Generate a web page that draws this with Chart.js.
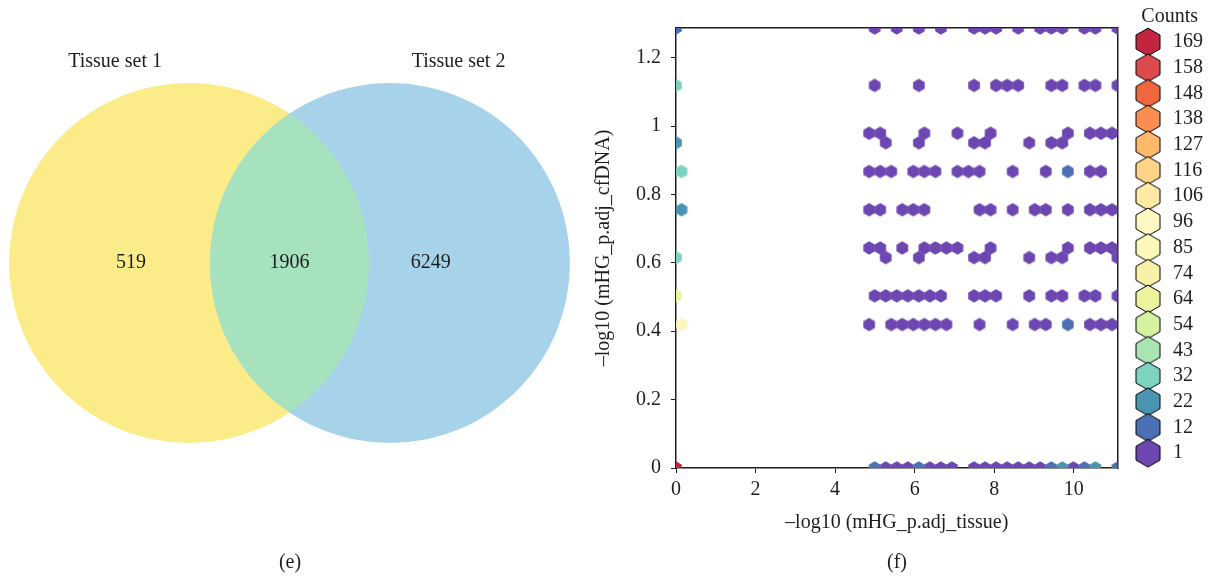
<!DOCTYPE html>
<html>
<head>
<meta charset="utf-8">
<script src="https://cdn.jsdelivr.net/npm/chart.js@4/dist/chart.umd.min.js"></script>
<style>
  html, body { margin: 0; padding: 0; background: #fff; }
  #page { position: relative; width: 1212px; height: 578px; }
  #venn { position: absolute; left: 0; top: 0; }
  #hexbin { position: absolute; left: 582px; top: 0; }
</style>
</head>
<body>
<div id="page">
  <canvas id="venn" width="580" height="578"></canvas>
  <canvas id="hexbin" width="630" height="578"></canvas>
</div>
<script>
// ---- (e) venn diagram ----
var vennSetNames = ['Tissue set 1', 'Tissue set 2'];
var vennSubsetCounts = [519, 1906, 6249];   // set 1 only, both, set 2 only
var vennColors = ['#fbec89', '#a7e2bf', '#a6d3ea'];

// ---- (f) hexbin ----
var xMax = 11.1;
var yMax = 1.287;
var xTicks = [0, 2, 4, 6, 8, 10];
var yTicks = [0, 0.2, 0.4, 0.6, 0.8, 1, 1.2];

var countLevels = [169, 158, 148, 138, 127, 116, 106, 96, 85, 74, 64, 54, 43, 32, 22, 12, 1];
var levelColors = ['#c1253f', '#dc4a4c', '#f0663f', '#f98e50', '#fdb869', '#fed486', '#feeaa4',
                   '#fff8c2', '#fbf7bb', '#f6f1a6', '#ebf39c', '#d5f1a2', '#a8e5b3', '#7dd3c0',
                   '#4894b1', '#4c70b4', '#6c47b1'];

// hexbin grid (gridsize 40): row index in y bins (x.5 = offset lattice), column index in x bins
var hexRows = [0, 7.5, 9, 11, 11.5, 13.5, 15.5, 17, 17.5, 20, 23];
var hexRowCols = [
  [0, 18, 19, 20, 21, 22, 23, 24, 25, 27, 28, 29, 30, 31, 32, 33, 34, 35, 36, 37, 38, 40],
  [0, 17, 19, 20, 21, 22, 23, 24, 27, 30, 32, 33, 35, 37, 38, 39],
  [0, 18, 19, 20, 21, 22, 23, 24, 27, 28, 29, 32, 34, 35, 37, 38, 40],
  [0, 19, 22, 27, 28, 32, 34, 35, 40],
  [17, 18, 20, 22, 23, 24, 25, 28, 35, 37, 38, 39],
  [0, 17, 18, 20, 21, 22, 27, 28, 30, 32, 33, 35, 37, 38, 39],
  [0, 17, 18, 19, 21, 22, 23, 25, 26, 27, 30, 33, 35, 37, 38],
  [0, 19, 22, 27, 28, 32, 34, 35],
  [17, 18, 22, 25, 28, 35, 37, 38, 39],
  [0, 18, 22, 27, 29, 30, 31, 34, 35, 37, 38, 40],
  [0, 18, 20, 22, 24, 27, 28, 29, 31, 33, 34, 35, 37, 38, 40]
];
var hexRowCounts = [
  [169, 12, 1, 1, 1, 12, 1, 1, 1, 1, 1, 1, 1, 1, 1, 1, 12, 22, 1, 12, 22, 12],
  [80, 1, 1, 1, 1, 1, 1, 1, 1, 1, 1, 1, 12, 1, 1, 1],
  [64, 1, 1, 1, 1, 1, 1, 1, 1, 1, 1, 1, 1, 1, 1, 1, 1],
  [33, 1, 1, 1, 1, 1, 1, 1, 1],
  [1, 1, 1, 1, 1, 1, 1, 1, 1, 1, 1, 1],
  [22, 1, 1, 1, 1, 1, 1, 1, 1, 1, 1, 1, 1, 1, 1],
  [36, 1, 1, 1, 1, 1, 1, 1, 1, 1, 1, 1, 12, 1, 1],
  [22, 1, 1, 1, 1, 1, 1, 1],
  [1, 1, 1, 1, 1, 1, 1, 1, 1],
  [36, 1, 1, 1, 1, 1, 1, 1, 1, 1, 1, 1],
  [12, 1, 1, 1, 1, 1, 1, 1, 1, 1, 1, 1, 1, 1, 1]
];

var ink = '#1e1e1e';
var serif = "'Liberation Serif', 'DejaVu Serif', serif";
Chart.defaults.font.family = serif;
Chart.defaults.color = ink;

var binWidth = xMax / 40;
var binHeight = yMax / 23;

function levelIndex(count) {
  var best = 0;
  countLevels.forEach(function (lv, i) {
    if (Math.abs(lv - count) < Math.abs(countLevels[best] - count)) best = i;
  });
  return best;
}

var hexPoints = countLevels.map(function () { return []; });
hexRows.forEach(function (row, r) {
  var shift = row % 1 ? 0.5 : 0;
  hexRowCols[r].forEach(function (col, k) {
    hexPoints[levelIndex(hexRowCounts[r][k])].push({x: (col + shift) * binWidth, y: row * binHeight});
  });
});

// pointy-top hexagon drawn once per size and colour
var hexCache = {};
function hexImage(w, h, fill, stroke) {
  var key = [w.toFixed(2), h.toFixed(2), fill, stroke].join('|');
  if (hexCache[key]) return hexCache[key];
  var c = document.createElement('canvas');
  c.width = Math.ceil(w) + 2;
  c.height = Math.ceil(h) + 2;
  var g = c.getContext('2d');
  g.translate(c.width / 2, c.height / 2);
  g.beginPath();
  g.moveTo(0, -h / 2);
  g.lineTo(w / 2, -h / 4);
  g.lineTo(w / 2, h / 4);
  g.lineTo(0, h / 2);
  g.lineTo(-w / 2, h / 4);
  g.lineTo(-w / 2, -h / 4);
  g.closePath();
  g.fillStyle = fill;
  g.fill();
  if (stroke) {
    g.lineWidth = 1;
    g.strokeStyle = stroke;
    g.stroke();
  }
  hexCache[key] = c;
  return c;
}

// cell size follows the axes: one x bin wide, 2/3 of a y bin tall
function cellStyle(ctx) {
  var sx = ctx.chart.scales.x, sy = ctx.chart.scales.y;
  var w = sx.getPixelForValue(binWidth) - sx.getPixelForValue(0);
  var h = (sy.getPixelForValue(0) - sy.getPixelForValue(binHeight)) * 2 / 3;
  if (!(w > 0 && h > 0)) return 'circle';
  return hexImage(w + 0.6, h + 0.6, ctx.dataset.backgroundColor);
}

var vennPlugin = {
  id: 'venn',
  beforeDatasetsDraw: function (chart, args, opts) {
    var ctx = chart.ctx, sx = chart.scales.x, sy = chart.scales.y;
    var circles = opts.centers.map(function (cx) {
      return {
        x: sx.getPixelForValue(cx),
        y: sy.getPixelForValue(0),
        r: sx.getPixelForValue(cx + opts.radius) - sx.getPixelForValue(cx)
      };
    });
    function path(c) {
      ctx.beginPath();
      ctx.arc(c.x, c.y, c.r, 0, Math.PI * 2);
    }
    ctx.save();
    path(circles[0]); ctx.fillStyle = vennColors[0]; ctx.fill();
    path(circles[1]); ctx.fillStyle = vennColors[2]; ctx.fill();
    path(circles[0]); ctx.clip();
    path(circles[1]); ctx.fillStyle = vennColors[1]; ctx.fill();
    ctx.restore();
  },
  afterDatasetsDraw: function (chart, args, opts) {
    var ctx = chart.ctx, sx = chart.scales.x, sy = chart.scales.y;
    ctx.save();
    ctx.font = '20px ' + serif;
    ctx.fillStyle = ink;
    ctx.textAlign = 'center';
    ctx.textBaseline = 'middle';
    vennSubsetCounts.forEach(function (n, i) {
      ctx.fillText(String(n), sx.getPixelForValue(opts.countX[i]), sy.getPixelForValue(0));
    });
    vennSetNames.forEach(function (name, i) {
      ctx.fillText(name, sx.getPixelForValue(opts.nameX[i]), sy.getPixelForValue(opts.nameY));
    });
    ctx.restore();
  }
};

new Chart(document.getElementById('venn'), {
  type: 'scatter',
  data: {datasets: []},
  options: {
    responsive: false,
    animation: false,
    events: [],
    scales: {
      x: {display: false, min: -1.6083, max: 1.6139},
      y: {display: false, min: -1.6, max: 1.4611}
    },
    plugins: {
      legend: {display: false},
      tooltip: {enabled: false},
      title: {display: true, position: 'bottom', text: '(e)', color: ink,
              font: {size: 20, weight: 'normal'}, padding: {top: 0, bottom: 3}},
      venn: {centers: [-0.558, 0.558], radius: 1, countX: [-0.88, 0, 0.785],
             nameX: [-0.969, 0.939], nameY: 1.117}
    }
  },
  plugins: [vennPlugin]
});

new Chart(document.getElementById('hexbin'), {
  type: 'scatter',
  data: {
    datasets: countLevels.map(function (level, i) {
      return {
        label: String(level),
        data: hexPoints[i],
        backgroundColor: levelColors[i],
        borderWidth: 0,
        pointStyle: cellStyle,
        pointRadius: 6,
        clip: 0
      };
    })
  },
  options: {
    responsive: false,
    animation: false,
    events: [],
    layout: {padding: {top: 5, right: 0, bottom: 0, left: 0}},
    scales: {
      x: {
        type: 'linear', min: 0, max: xMax,
        afterBuildTicks: function (s) { s.ticks = xTicks.map(function (v) { return {value: v}; }); },
        afterFit: function (s) { s.height = 83; },
        ticks: {font: {size: 20}, color: ink, padding: 5, maxRotation: 0, autoSkip: false,
                callback: function (v) { return String(v); }},
        grid: {drawOnChartArea: false, drawTicks: true, tickLength: 5, color: ink, lineWidth: 1},
        border: {display: true, color: ink, width: 1.5},
        title: {display: true, text: '\u2013log10 (mHG_p.adj_tissue)', color: ink,
                font: {size: 20}, padding: {top: 0, bottom: 16}}
      },
      y: {
        type: 'linear', min: 0, max: yMax,
        afterBuildTicks: function (s) { s.ticks = yTicks.map(function (v) { return {value: v}; }); },
        afterFit: function (s) { s.width = 94; },
        ticks: {font: {size: 20}, color: ink, padding: 10, autoSkip: false,
                callback: function (v) { return String(v); }},
        grid: {drawOnChartArea: false, drawTicks: true, tickLength: 5, color: ink, lineWidth: 1},
        border: {display: true, color: ink, width: 1.5},
        title: {display: true, text: '\u2013log10 (mHG_p.adj_cfDNA)', color: ink,
                font: {size: 20}, padding: {top: 10, bottom: 0}}
      },
      x2: {
        type: 'linear', position: 'top', display: true,
        afterFit: function (s) { s.height = 23; },
        ticks: {display: false},
        grid: {display: false},
        border: {display: true, color: ink, width: 1.5}
      },
      y2: {
        type: 'linear', position: 'right', display: true,
        afterFit: function (s) { s.width = 9.8; },
        ticks: {display: false},
        grid: {display: false},
        border: {display: true, color: ink, width: 1.5}
      }
    },
    plugins: {
      tooltip: {enabled: false},
      title: {display: true, position: 'bottom', text: '(f)', color: ink,
              font: {size: 20, weight: 'normal'}, padding: {top: 0, bottom: 3}},
      legend: {
        position: 'right',
        align: 'start',
        maxWidth: 84.7,
        title: {display: true, text: 'Counts', color: ink,
                font: {size: 20, lineHeight: 1}, padding: {top: 2, bottom: -0.7}},
        labels: {
          usePointStyle: true,
          pointStyleWidth: 30,
          padding: 5.7,
          color: ink,
          font: {size: 20},
          generateLabels: function (chart) {
            return chart.data.datasets.map(function (ds, i) {
              return {
                text: ds.label,
                datasetIndex: i,
                fillStyle: ds.backgroundColor,
                strokeStyle: '#000',
                lineWidth: 1,
                hidden: false,
                fontColor: ink,
                pointStyle: hexImage(24, 27.7, ds.backgroundColor, '#000')
              };
            });
          }
        }
      }
    }
  }
});
</script>
</body>
</html>
